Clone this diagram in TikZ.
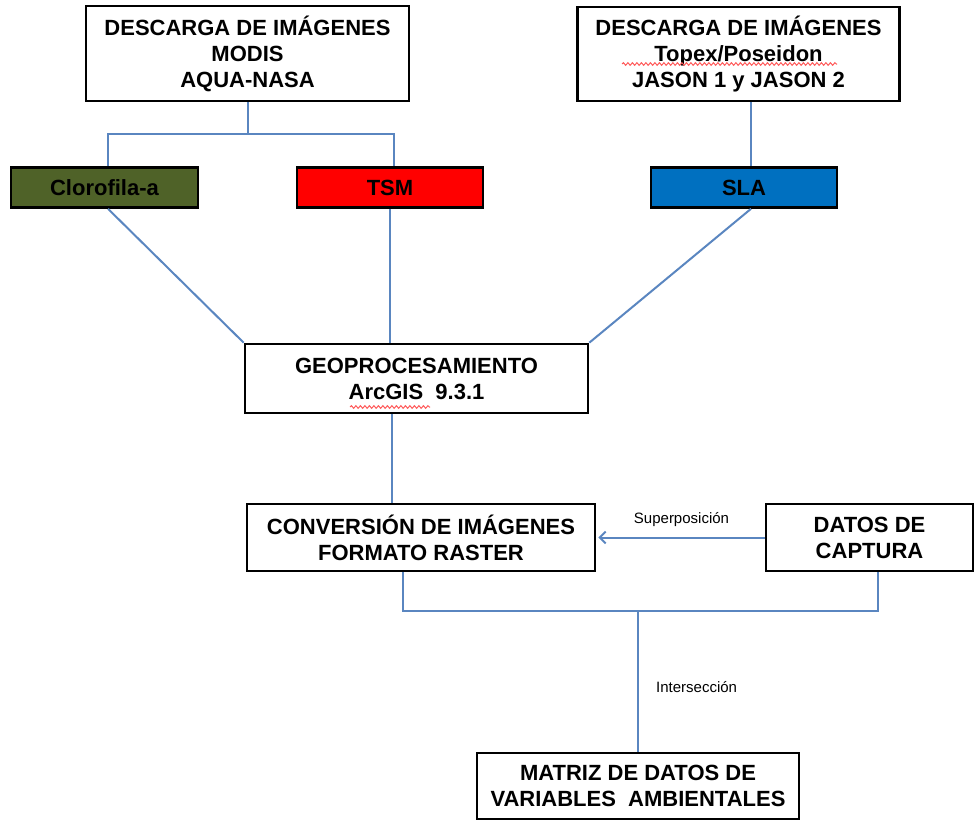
\documentclass[tikz,border=0pt]{standalone}
\usepackage{fontspec}
\setmainfont{Liberation Sans}
\usetikzlibrary{arrows.meta,decorations.pathmorphing}
\definecolor{olivebox}{HTML}{4F6228}
\definecolor{bluebox}{HTML}{0070C0}
\definecolor{linkc}{HTML}{5A86C0}
\tikzset{
  box/.style={draw=black, line width=2.6pt, fill=white, align=center, inner sep=0pt,
    font=\fontsize{22}{26}\selectfont\bfseries},
  link/.style={draw=linkc, line width=2pt},
  tiny/.style={font=\fontsize{15}{17}\selectfont, inner sep=0pt},
  squig/.style={draw=red!65, line width=1pt, decorate, decoration={snake, amplitude=1.3pt, segment length=4.5pt}}
}
\begin{document}
\begin{tikzpicture}[x=1pt,y=-1pt]
\useasboundingbox (0,0) rectangle (977,822);
% nodes
\node[box, minimum width=323pt, minimum height=95pt] (n1) at (247.5,53.5) {DESCARGA DE IMÁGENES\\MODIS\\AQUA-NASA};
\node[box, minimum width=322pt, minimum height=94pt] (n2) at (738.5,54) {DESCARGA DE IMÁGENES\\Topex/Poseidon\\JASON 1 y JASON 2};
\node[box, fill=olivebox, minimum width=187pt, minimum height=40pt] (clo) at (104.5,187.5) {Clorofila-a};
\node[box, fill=red, minimum width=186pt, minimum height=40pt] (tsm) at (390,187.5) {TSM};
\node[box, fill=bluebox, minimum width=186pt, minimum height=40pt] (sla) at (744,187.5) {SLA};
\node[box, minimum width=343pt, minimum height=69pt] (geo) at (416.5,378.5) {GEOPROCESAMIENTO\\ArcGIS\ \ 9.3.1};
\node[box, minimum width=348pt, minimum height=67pt] (conv) at (421,537.5) {CONVERSIÓN DE IMÁGENES\\FORMATO RASTER};
\node[box, minimum width=207pt, minimum height=67pt] (datos) at (869.5,537.5) {DATOS DE\\CAPTURA};
\node[box, minimum width=322pt, minimum height=66pt] (mat) at (638,786) {MATRIZ DE DATOS DE\\VARIABLES\ \ AMBIENTALES};
% squiggles
\draw[squig] (622,64) -- (837,64);
\draw[squig] (350,407) -- (430,407);
% connectors
\coordinate (j1) at (247.5,134);
\draw[link] (n1.south) -- (j1);
\draw[link] ([xshift=3.5pt]clo.north) |- (j1);
\draw[link] ([xshift=4pt]tsm.north) |- (j1);
\draw[link] ([xshift=12.5pt]n2.south) -- ([xshift=12.5pt]n2.south |- sla.north);
\draw[link] ([xshift=3.5pt]clo.south) -- (geo.north west);
\draw[link] (tsm.south) -- (tsm.south |- geo.north);
\draw[link] ([xshift=7pt]sla.south) -- (geo.north east);
\draw[link] ([xshift=-24.5pt]geo.south) -- ([xshift=-24.5pt]geo.south |- conv.north);
\draw[link, -{Straight Barb[length=6pt,width=12pt]}] (datos.west) -- node[tiny, above=10pt] (sup) {Superposición} ([xshift=2pt]conv.east);
\coordinate (j2) at (638,611);
\draw[link] ([xshift=-18pt]conv.south) |- (j2);
\draw[link] ([xshift=8.5pt]datos.south) |- (j2);
\draw[link] (j2) -- (mat.north);
\node[tiny, anchor=west] (inter) at (656,687) {Intersección};
\end{tikzpicture}
\end{document}
